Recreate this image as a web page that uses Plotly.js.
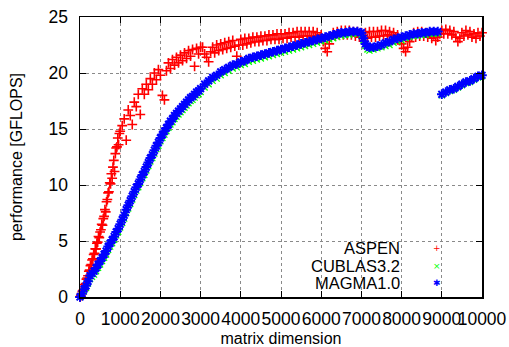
<!DOCTYPE html>
<html>
<head>
<meta charset="utf-8">
<script src="https://cdn.plot.ly/plotly-3.0.1.min.js"></script>
<style>html,body{margin:0;padding:0;background:#fff;}#chart{width:509px;height:347px;}</style>
</head>
<body>
<div id="chart"></div>
<script>
// ---- data ----
const seriesNames = ["ASPEN", "CUBLAS3.2", "MAGMA1.0"];
const xTickValues = [0,1000,2000,3000,4000,5000,6000,7000,8000,9000,10000];
const yTickValues = [0,5,10,15,20,25];

// ASPEN: matrix dimension samples and performance [GFLOPS]
const aspenX = [
 0,20,40,60,80,100,120,140,160,180,200,220,240,260,280,300,320,340,360,380,400,420,440,460,480,500,
 520,540,560,580,600,620,640,660,680,700,720,740,760,780,800,820,840,860,880,900,920,940,960,980,1000,
 1050,1100,1150,1200,1250,1300,1350,1400,1450,1500,1550,1600,1650,1700,1750,1800,1850,1900,1950,2000,
 2050,2100,2150,2200,2250,2300,2350,2400,2450,2500,2550,2600,2650,2700,2750,2800,2850,2900,2950,3000,
 3050,3100,3150,3200,3250,3300,3350,3400,3450,3500,3550,3600,3650,3700,3750,3800,3850,3900,3950,4000,
 4050,4100,4150,4200,4250,4300,4350,4400,4450,4500,4550,4600,4650,4700,4750,4800,4850,4900,4950,5000,
 5050,5100,5150,5200,5250,5300,5350,5400,5450,5500,5550,5600,5650,5700,5750,5800,5850,5900,5950,6000,
 6050,6100,6150,6200,6250,6300,6350,6400,6450,6500,6550,6600,6650,6700,6750,6800,6850,6900,6950,7000,
 7050,7100,7150,7200,7250,7300,7350,7400,7450,7500,7550,7600,7650,7700,7750,7800,7850,7900,7950,8000,
 8050,8100,8150,8200,8250,8300,8350,8400,8450,8500,8550,8600,8650,8700,8750,8800,8850,8900,8950,9000,
 9050,9100,9150,9200,9250,9300,9350,9400,9450,9500,9550,9600,9650,9700,9750,9800,9850,9900,9950,10000
];
const aspenY = [
 0.0,0.1,0.3,0.5,0.6,0.8,1.1,1.2,1.6,1.7,1.9,2.3,2.4,2.8,2.9,3.3,3.4,3.8,3.9,4.3,4.3,4.8,4.9,5.4,5.3,5.8,
 6.0,6.5,6.4,7.0,7.2,7.8,7.6,8.5,8.7,9.3,9.4,10.2,10.1,11.0,10.6,11.6,12.2,11.2,12.8,13.3,13.4,14.2,13.6,14.6,14.8,
 15.3,15.9,14.0,16.7,16.2,15.4,17.4,17.0,18.1,16.3,18.6,18.1,19.0,18.5,19.5,19.0,20.0,19.4,20.3,19.8,
 18.0,17.6,20.2,20.9,20.4,21.2,20.7,21.4,20.9,21.6,21.1,21.8,21.3,22.0,21.5,22.1,20.6,22.2,21.7,22.3,
 22.3,21.7,21.4,21.0,21.9,22.3,21.8,22.5,22.0,22.6,22.1,22.7,22.2,22.8,22.3,22.9,22.4,21.5,22.5,23.0,
 22.5,23.1,22.6,23.1,22.7,23.2,22.8,23.2,22.8,23.3,22.9,23.3,22.9,23.4,23.0,23.4,23.0,23.5,23.0,23.5,
 23.1,23.5,23.1,23.6,23.2,23.6,23.2,23.7,23.2,23.7,23.3,23.7,23.3,23.7,23.3,23.7,23.2,23.6,23.1,23.4,
 22.8,22.2,21.9,22.6,23.2,23.6,23.3,23.7,23.4,23.8,23.4,23.8,23.4,23.8,23.4,23.7,23.3,23.7,23.2,23.6,
 23.1,23.6,23.1,23.7,23.2,23.7,23.2,23.7,23.3,23.8,23.3,23.8,23.4,23.7,23.3,23.6,23.2,23.4,22.9,22.6,
 22.2,21.9,22.3,22.8,23.2,23.6,23.2,23.7,23.3,23.7,23.3,23.6,23.2,23.5,23.1,23.4,22.9,23.2,23.5,23.8,
 23.5,23.9,23.5,23.8,23.4,23.7,23.2,22.8,23.1,23.6,23.3,23.8,23.4,23.7,23.2,23.5,23.1,23.6,23.3,23.6
];

// CUBLAS3.2 and MAGMA1.0 share the same matrix dimension samples
const gpuX = [
 0,50,100,150,200,250,300,350,400,450,500,550,600,650,700,750,800,850,900,950,1000,
 1050,1100,1150,1200,1250,1300,1350,1400,1450,1500,1550,1600,1650,1700,1750,1800,1850,1900,1950,2000,
 2050,2100,2150,2200,2250,2300,2350,2400,2450,2500,2550,2600,2650,2700,2750,2800,2850,2900,2950,3000,
 3100,3200,3300,3400,3500,3600,3700,3800,3900,4000,4100,4200,4300,4400,4500,4600,4700,4800,4900,5000,
 5100,5200,5300,5400,5500,5600,5700,5800,5900,6000,6100,6200,6300,6400,6500,6600,6700,6800,6900,7000,
 7050,7100,7150,7200,
 7300,7400,7500,7600,7700,7800,7900,8000,8100,8200,8300,8400,8500,8600,8700,8800,8900,
 9000,9100,9200,9300,9400,9500,9600,9700,9800,9900,10000
];
const cublasY = [
 0.0,0.2,0.5,0.8,1.2,1.6,1.8,2.0,2.3,2.6,2.9,3.2,3.5,3.8,4.2,4.5,4.8,5.1,5.5,5.8,6.2,
 6.6,7.0,7.5,7.9,8.3,8.7,9.1,9.5,9.8,10.2,10.6,10.9,11.3,11.7,12.1,12.4,12.8,13.2,13.5,13.9,
 14.2,14.5,14.8,15.1,15.4,15.6,15.9,16.1,16.3,16.5,16.7,16.9,17.1,17.3,17.5,17.6,17.8,18.0,18.1,18.3,
 18.7,19.0,19.3,19.5,19.8,20.0,20.2,20.4,20.5,20.7,20.8,21.0,21.1,21.2,21.3,21.4,21.5,21.6,21.7,21.8,
 21.9,22.0,22.1,22.2,22.3,22.4,22.5,22.6,22.7,22.8,22.9,23.0,23.1,23.2,23.3,23.4,23.4,23.5,23.5,23.4,
 22.9,22.4,22.1,22.0,
 22.1,22.2,22.3,22.4,22.5,22.7,22.8,22.9,23.1,23.2,23.3,23.3,23.4,23.4,23.5,23.5,23.5,
 18.0,18.2,18.4,18.5,18.7,18.9,19.1,19.2,19.4,19.6,19.7
];
const magmaY = [
 0.0,0.3,0.7,1.0,1.4,1.9,2.1,2.3,2.6,2.9,3.2,3.5,3.8,4.1,4.5,4.8,5.1,5.4,5.8,6.1,6.5,
 6.9,7.3,7.8,8.2,8.6,9.0,9.4,9.8,10.1,10.5,10.9,11.2,11.6,12.0,12.4,12.7,13.1,13.5,13.8,14.2,
 14.5,14.8,15.1,15.4,15.7,15.9,16.2,16.4,16.6,16.8,17.0,17.2,17.4,17.6,17.8,17.9,18.1,18.3,18.4,18.6,
 19.0,19.3,19.6,19.8,20.1,20.3,20.5,20.7,20.8,21.0,21.1,21.3,21.4,21.5,21.6,21.7,21.8,21.9,22.0,22.1,
 22.2,22.3,22.4,22.5,22.6,22.7,22.8,22.9,23.0,23.1,23.2,23.3,23.4,23.5,23.6,23.6,23.7,23.7,23.7,23.6,
 23.1,22.6,22.4,22.3,
 22.3,22.4,22.5,22.7,22.8,23.0,23.1,23.2,23.3,23.4,23.5,23.5,23.6,23.6,23.7,23.7,23.7,
 18.1,18.3,18.5,18.6,18.8,19.0,19.2,19.3,19.5,19.7,19.8
];

const colors = ["#ff0000", "#00ff00", "#0000ff"];
const FONT = "Liberation Sans, Arial, sans-serif";

const traces = [
  {x: aspenX, y: aspenY, name: seriesNames[0], type: "scatter", mode: "markers", cliponaxis: false,
   marker: {symbol: "cross-thin-open", size: 7, color: colors[0], line: {color: colors[0], width: 1.6}}},
  {x: gpuX, y: cublasY, name: seriesNames[1], type: "scatter", mode: "markers", cliponaxis: false,
   marker: {symbol: "x-thin-open", size: 6, color: colors[1], line: {color: colors[1], width: 1.3}}},
  {x: gpuX, y: magmaY, name: seriesNames[2], type: "scatter", mode: "markers", cliponaxis: false,
   marker: {symbol: "asterisk-open", size: 8, color: colors[2], line: {color: colors[2], width: 2}}}
];

const axisCommon = {
  showgrid: true, gridcolor: "#8a8a8a", griddash: "dot", gridwidth: 1,
  zeroline: false, showline: true, linecolor: "#000", linewidth: 1.5, mirror: "ticks",
  ticks: "inside", ticklen: 6, tickwidth: 1, tickcolor: "#000", tickangle: 0,
  tickfont: {family: FONT, size: 17.5, color: "#000"}
};

// legend, drawn gnuplot-style: text right-aligned, sample symbol to its right
const legendSymbols = ["+", "×", "✱"];
const legendRowsY = [0.175, 0.112, 0.05];
const annotations = [];
seriesNames.forEach((n, i) => {
  annotations.push({xref: "paper", yref: "paper", x: 0.80, y: legendRowsY[i], xanchor: "right", yanchor: "middle",
    text: n, showarrow: false, font: {family: FONT, size: 16.5, color: "#000"}});
  annotations.push({xref: "paper", yref: "paper", x: 0.888, y: legendRowsY[i], xanchor: "center", yanchor: "middle",
    text: legendSymbols[i], showarrow: false, font: {family: "DejaVu Sans", size: 9, color: colors[i]}});
});

const layout = {
  width: 509, height: 347,
  margin: {l: 80, r: 27, t: 17, b: 50},
  paper_bgcolor: "#fff", plot_bgcolor: "#fff",
  showlegend: false,
  font: {family: FONT, size: 16, color: "#000"},
  xaxis: Object.assign({}, axisCommon, {
    range: [0, 10000], tickvals: xTickValues, ticktext: xTickValues.map(String),
    ticklabelstandoff: 5, automargin: false,
    title: {text: "matrix dimension", font: {family: FONT, size: 16, color: "#000"}, standoff: 8}
  }),
  yaxis: Object.assign({}, axisCommon, {
    range: [0, 25], tickvals: yTickValues, ticktext: yTickValues.map(String),
    ticklabelstandoff: 7, automargin: false,
    title: {text: "performance [GFLOPS]", font: {family: FONT, size: 16, color: "#000"}, standoff: 22}
  }),
  shapes: [{type: "rect", xref: "paper", yref: "paper", x0: 0.565, x1: 0.97, y0: 0.0, y1: 0.2,
            fillcolor: "#fff", line: {width: 0}, layer: "between"}],
  annotations: annotations
};

Plotly.newPlot("chart", traces, layout, {displayModeBar: false, staticPlot: true});
</script>
</body>
</html>
